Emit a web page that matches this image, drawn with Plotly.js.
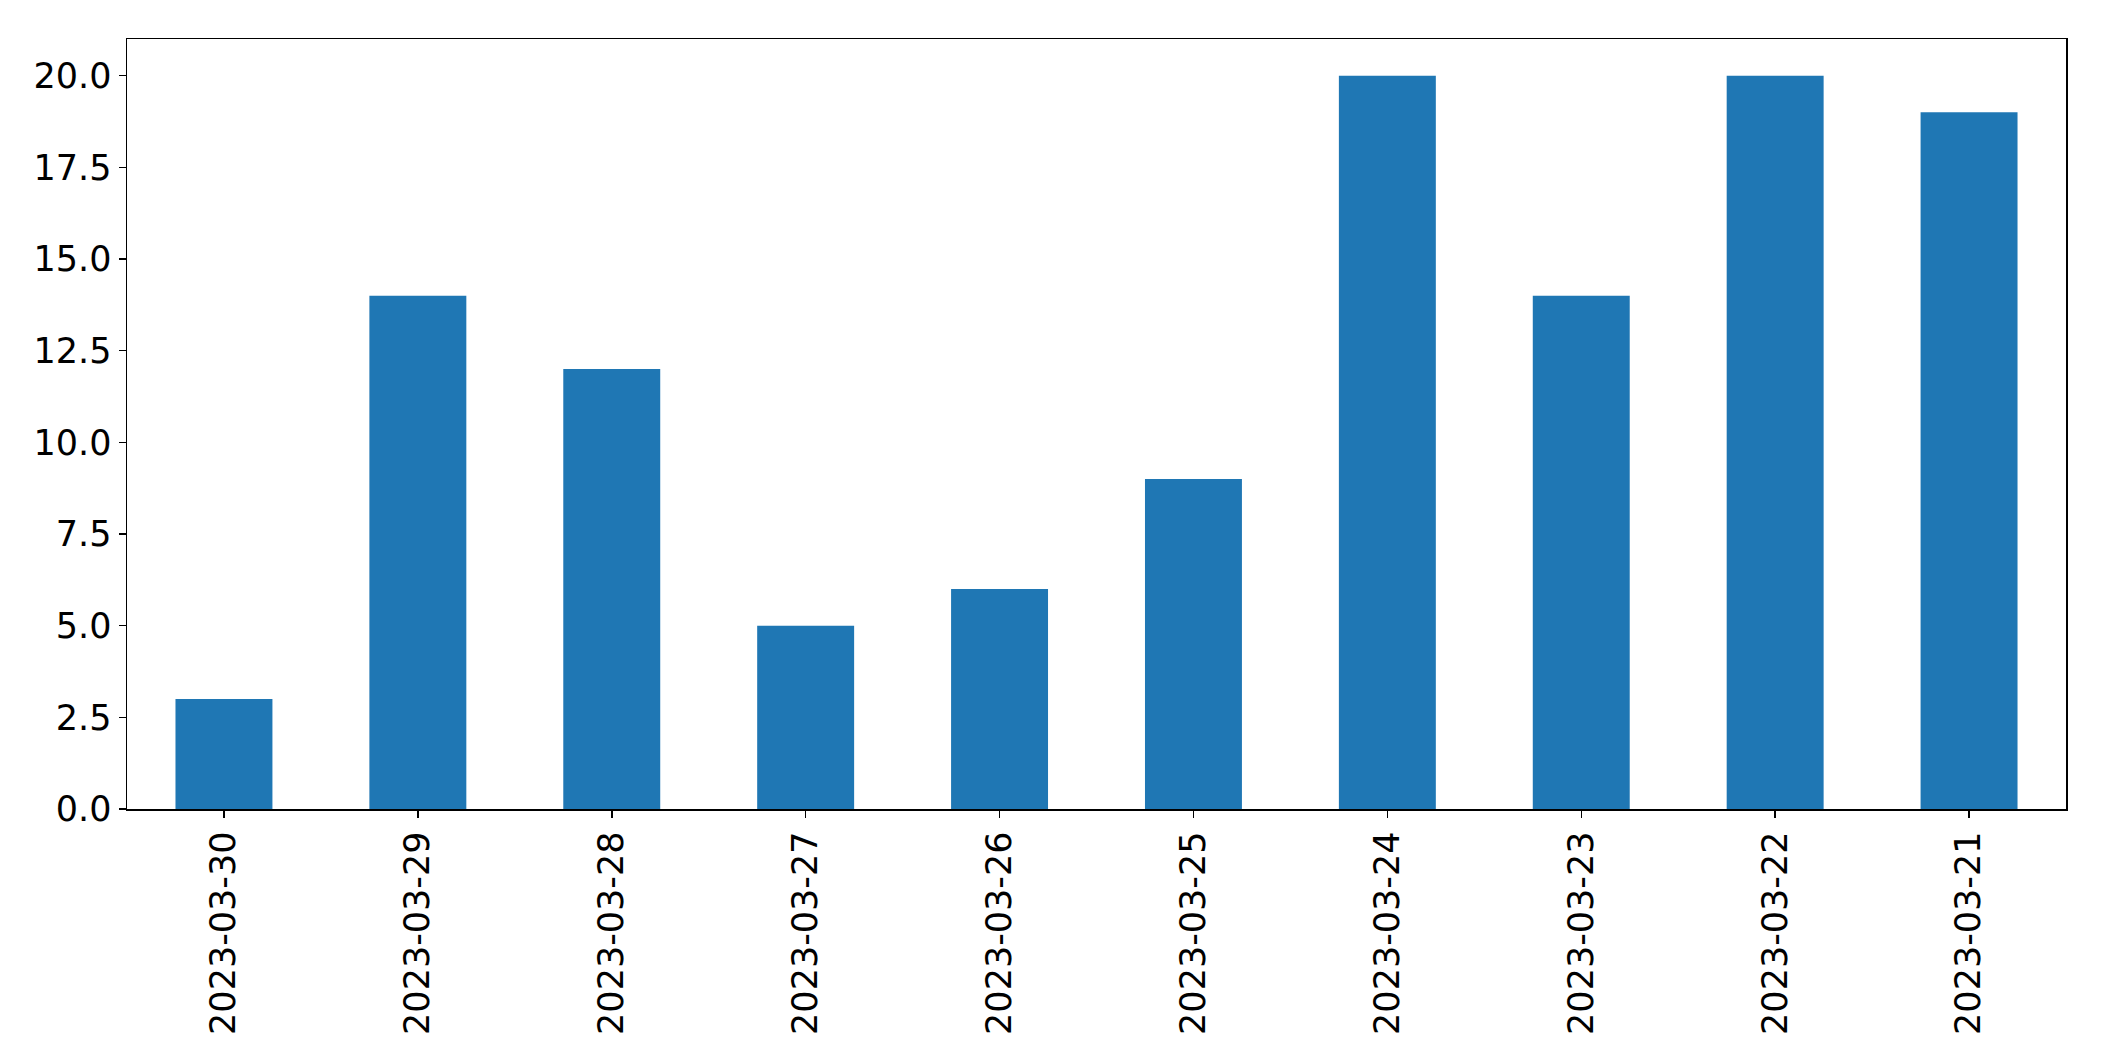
<!DOCTYPE html>
<html>
<head>
<meta charset="utf-8">
<script src="https://cdn.plot.ly/plotly-3.0.1.min.js"></script>
<style>
  html, body { margin: 0; padding: 0; background: white; }
  #graph { width: 2104px; height: 1061px; }
</style>
</head>
<body>
<div id="graph"></div>
<script>
// dates as shown (newest first) and counts per day
const dates = ['2023-03-30', '2023-03-29', '2023-03-28', '2023-03-27', '2023-03-26',
               '2023-03-25', '2023-03-24', '2023-03-23', '2023-03-22', '2023-03-21'];
const counts = [3, 14, 12, 5, 6, 9, 20, 14, 20, 19];
const yTicks = [0, 2.5, 5, 7.5, 10, 12.5, 15, 17.5, 20];

function drawGraph() {
    const trace = {
        x: dates,
        y: counts,
        type: 'bar',
        marker: { color: '#1f77b4' },
        hoverinfo: 'x+y'
    };

    const axisFont = { family: 'DejaVu Sans, sans-serif', size: 35, color: 'black' };

    const layout = {
        width: 2104,
        height: 1061,
        margin: { l: 127, r: 38, t: 39, b: 252 },
        paper_bgcolor: 'white',
        plot_bgcolor: 'white',
        showlegend: false,
        bargap: 0.5,
        xaxis: {
            type: 'category',
            tickangle: -90,
            tickfont: axisFont,
            ticks: 'outside',
            ticklen: 7,
            tickwidth: 1.5,
            tickcolor: 'black',
            showline: true,
            linecolor: 'black',
            linewidth: 1.5,
            mirror: true,
            showgrid: false,
            zeroline: false
        },
        yaxis: {
            range: [0, 21],
            tickvals: yTicks,
            ticktext: yTicks.map(v => v.toFixed(1)),
            tickfont: axisFont,
            ticks: 'outside',
            ticklen: 7,
            tickwidth: 1.5,
            tickcolor: 'black',
            showline: true,
            linecolor: 'black',
            linewidth: 1.5,
            mirror: true,
            showgrid: false,
            zeroline: false
        }
    };

    Plotly.newPlot('graph', [trace], layout, { displayModeBar: false, staticPlot: true });
}

drawGraph();
</script>
</body>
</html>
